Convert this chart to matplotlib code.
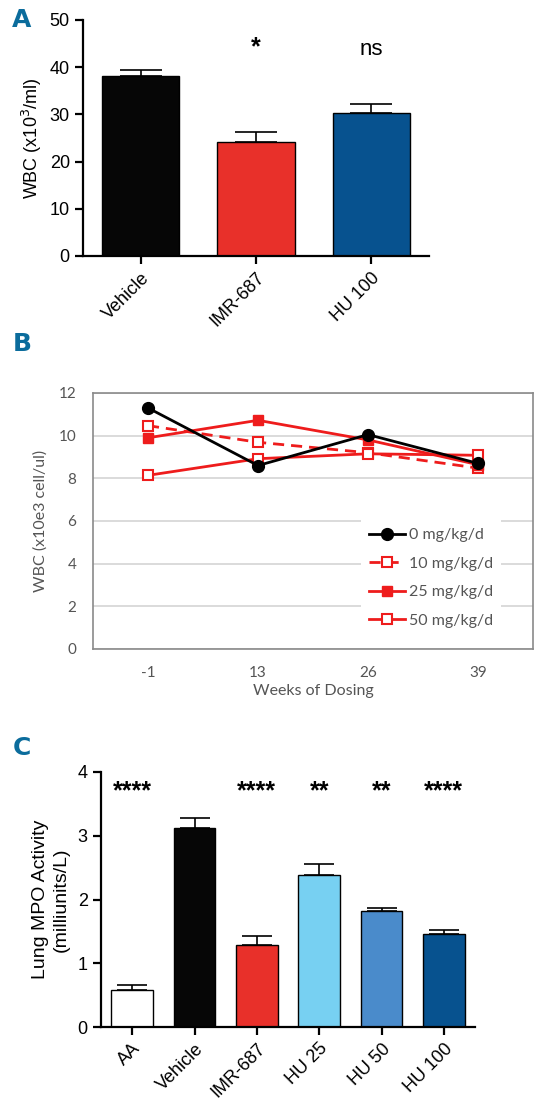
import numpy as np
import matplotlib.pyplot as plt

# panel A
a_groups = ["Vehicle", "IMR-687", "HU 100"]
a_means = [38.2, 24.2, 30.3]
a_errs = [1.3, 2.0, 1.8]
a_sig = ["", "*", "ns"]
a_colors = ["#060606", "#e8302a", "#07528f"]

# panel B
b_weeks = ["-1", "13", "26", "39"]
b_0 = [11.3, 8.6, 10.05, 8.7]
b_10 = [10.47, 9.69, 9.2, 8.48]
b_25 = [9.9, 10.72, 9.8, 8.64]
b_50 = [8.14, 8.92, 9.15, 9.08]

# panel C
c_groups = ["AA", "Vehicle", "IMR-687", "HU 25", "HU 50", "HU 100"]
c_means = [0.575, 3.12, 1.29, 2.39, 1.82, 1.46]
c_errs = [0.09, 0.16, 0.13, 0.16, 0.05, 0.06]
c_sig = ["****", "", "****", "**", "**", "****"]
c_colors = ["#ffffff", "#060606", "#e8302a", "#77d0f2", "#4a8bcb", "#07528f"]

W, H = 535, 1107
fig = plt.figure(figsize=(W / 100, H / 100), dpi=100)
helv = "Liberation Sans"
calib = "Lato"
panel_col = "#0b6c9c"


def px_axes(l, t, r, b):
    return fig.add_axes([l / W, 1 - b / H, (r - l) / W, (b - t) / H])


def prism_style(ax):
    for s in ["top", "right"]:
        ax.spines[s].set_visible(False)
    for s in ["left", "bottom"]:
        ax.spines[s].set_linewidth(1.6)
    ax.tick_params(width=1.6, length=6, labelsize=13, direction="out")
    for lab in ax.get_yticklabels():
        lab.set_fontfamily(helv)


def bar_panel(ax, groups, means, errs, colors, sig, star_y, ymax, ystep, cap):
    x = np.arange(len(groups))
    ax.bar(x, means, width=0.67, color=colors, edgecolor="black", linewidth=1.0, zorder=2)
    ax.errorbar(x, means, yerr=[np.zeros(len(errs)), errs], fmt="none",
                ecolor="black", elinewidth=1.2, capsize=cap, capthick=1.2, zorder=1)
    ax.set_xlim(-0.5, len(groups) - 0.5)
    ax.set_ylim(0, ymax)
    ax.set_yticks(np.arange(0, ymax + 0.001, ystep))
    ax.set_xticks(x)
    ax.set_xticklabels(groups, rotation=45, ha="right", rotation_mode="anchor",
                       fontsize=12.5, fontfamily=helv)
    for xi, s in zip(x, sig):
        if not s:
            continue
        if s == "ns":
            ax.text(xi, star_y[1], s, ha="center", va="center", fontsize=16, fontfamily=helv)
        else:
            ax.text(xi, star_y[0], s, ha="center", va="center", fontsize=18,
                    fontfamily=helv, fontweight="bold")
    prism_style(ax)


# ---- A ----
axA = px_axes(83, 20, 429, 256)
bar_panel(axA, a_groups, a_means, a_errs, a_colors, a_sig, (44.3, 43.8), 50, 10, 15)
axA.set_ylabel("WBC (x10$^3$/ml)", fontsize=13, fontfamily=helv, labelpad=4)

# ---- B ----
axB = px_axes(93, 393, 533, 649)
xb = np.arange(len(b_weeks))
red = "#ee1c1c"
axB.plot(xb, b_0, color="black", lw=2, marker="o", ms=8.5, label="0 mg/kg/d", zorder=5)
axB.plot(xb, b_10, color=red, lw=2, ls=(0, (4, 2.5)), marker="s", ms=7.5, mfc="white",
         mec=red, mew=1.5, label="10 mg/kg/d", zorder=3)
axB.plot(xb, b_25, color=red, lw=2, marker="s", ms=7.5, label="25 mg/kg/d", zorder=4)
axB.plot(xb, b_50, color=red, lw=2, marker="s", ms=7.5, mfc="white", mec=red, mew=1.5,
         label="50 mg/kg/d", zorder=3)
axB.set_xlim(-0.5, 3.5)
axB.set_ylim(0, 12)
axB.set_yticks(range(0, 13, 2))
axB.set_xticks(xb)
axB.set_xticklabels(b_weeks)
axB.grid(axis="y", color="#d4d4d4", lw=1.2, zorder=0)
axB.set_axisbelow(True)
for s in axB.spines.values():
    s.set_color("#8a8a8a")
    s.set_linewidth(1.2)
axB.tick_params(length=0, labelsize=11, labelcolor="#555555", pad=12)
for lab in axB.get_xticklabels() + axB.get_yticklabels():
    lab.set_fontfamily(calib)
axB.set_xlabel("Weeks of Dosing", fontsize=11.5, color="#555555", fontfamily=calib, labelpad=3)
axB.set_ylabel("WBC (x10e3 cell/ul)", fontsize=11.5, color="#555555", fontfamily=calib, labelpad=8)
leg = axB.legend(loc="center left", bbox_to_anchor=(0.59, 0.277), frameon=True,
                 facecolor="white", edgecolor="none", framealpha=1, fancybox=False,
                 handlelength=2.3, handletextpad=0.2, labelspacing=0.9, borderpad=0.5,
                 prop={"family": calib, "size": 11.5})
for t in leg.get_texts():
    t.set_color("#555555")

# ---- C ----
axC = px_axes(101, 772, 475, 1027)
bar_panel(axC, c_groups, c_means, c_errs, c_colors, c_sig, (3.7, 3.7), 4, 1, 11)
axC.set_ylabel("Lung MPO Activity\n(milliunits/L)", fontsize=14, fontfamily=helv,
               labelpad=6, linespacing=1.25)

# panel letters
for letter, y in [("A", 20), ("B", 344), ("C", 748)]:
    fig.text(22 / W, 1 - y / H, letter, color=panel_col, fontsize=18, fontweight="bold",
             fontfamily="Liberation Sans Narrow", ha="center", va="center")

fig.savefig("out.png", dpi=100)
